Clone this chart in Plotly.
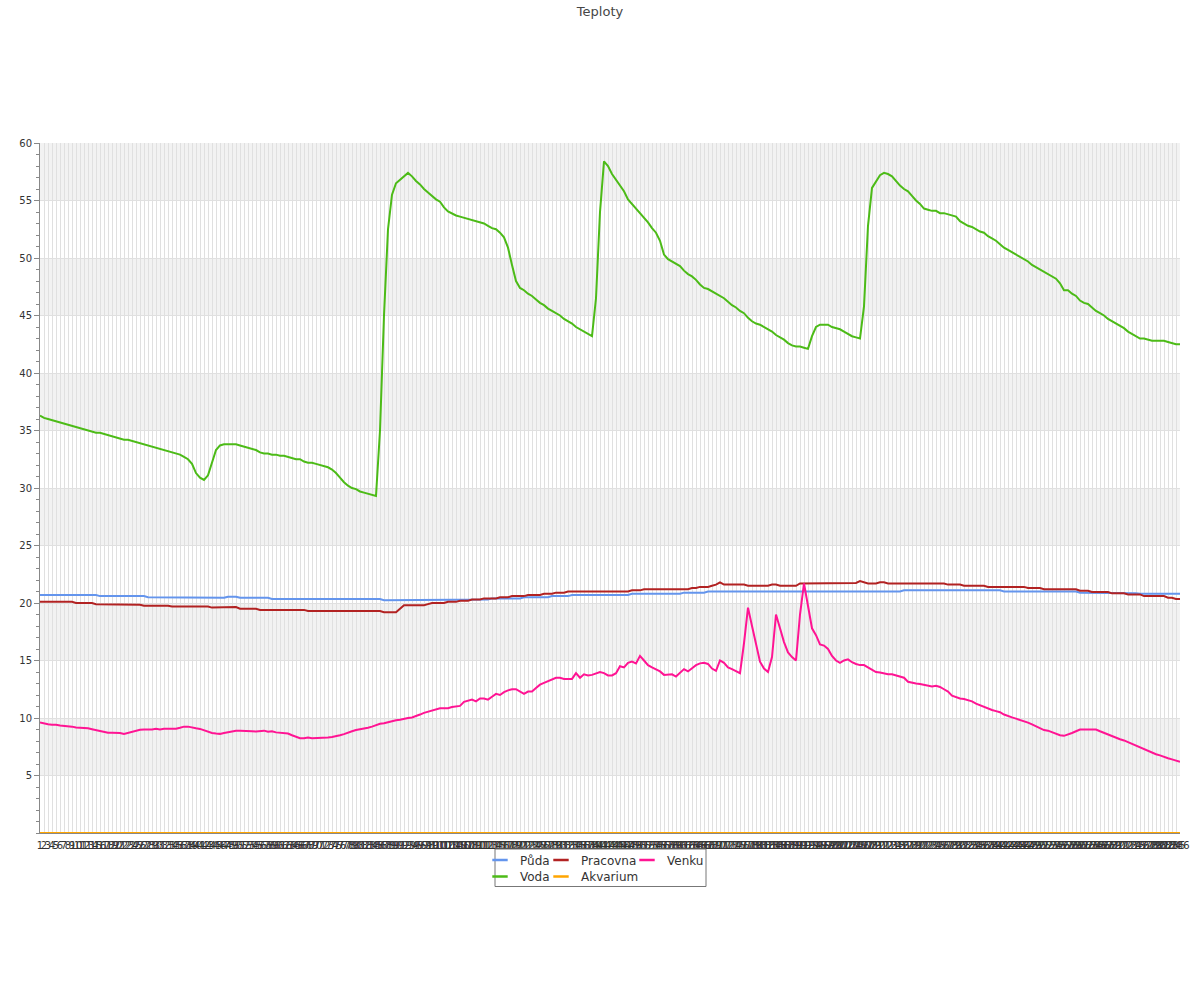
import plotly.graph_objects as go

title_text = "Teploty"

# category labels on the x axis (1 .. 286)
categories = [str(i) for i in range(1, 287)]

y_tick_values = [5, 10, 15, 20, 25, 30, 35, 40, 45, 50, 55, 60]
y_tick_labels = ["5", "10", "15", "20", "25", "30", "35", "40", "45", "50", "55", "60"]

puda = [
    20.7, 20.7, 20.7, 20.7, 20.7, 20.7, 20.7, 20.7, 20.7, 20.7,
    20.7, 20.7, 20.7, 20.7, 20.7, 20.6, 20.6, 20.6, 20.6, 20.6,
    20.6, 20.6, 20.6, 20.6, 20.6, 20.6, 20.6, 20.5, 20.5, 20.5,
    20.5, 20.5, 20.5, 20.5, 20.5, 20.5, 20.5, 20.5, 20.5, 20.5,
    20.5, 20.5, 20.5, 20.5, 20.5, 20.5, 20.45, 20.55, 20.55, 20.55,
    20.45, 20.45, 20.45, 20.45, 20.45, 20.45, 20.45, 20.45, 20.35, 20.35,
    20.35, 20.35, 20.35, 20.35, 20.35, 20.35, 20.35, 20.35, 20.35, 20.35,
    20.35, 20.35, 20.35, 20.35, 20.35, 20.35, 20.35, 20.35, 20.35, 20.35,
    20.35, 20.35, 20.35, 20.35, 20.35, 20.35, 20.25, 20.25, 20.3, 20.25,
    20.25, 20.25, 20.25, 20.25, 20.25, 20.25, 20.25, 20.25, 20.25, 20.25,
    20.25, 20.25, 20.3, 20.3, 20.3, 20.3, 20.3, 20.3, 20.3, 20.3,
    20.3, 20.3, 20.3, 20.4, 20.4, 20.4, 20.4, 20.4, 20.4, 20.4,
    20.4, 20.5, 20.5, 20.5, 20.5, 20.5, 20.5, 20.5, 20.6, 20.6,
    20.6, 20.6, 20.6, 20.7, 20.7, 20.7, 20.7, 20.7, 20.7, 20.7,
    20.7, 20.7, 20.7, 20.7, 20.7, 20.7, 20.7, 20.7, 20.8, 20.8,
    20.8, 20.8, 20.8, 20.8, 20.8, 20.8, 20.8, 20.8, 20.8, 20.8,
    20.8, 20.9, 20.9, 20.9, 20.9, 20.9, 20.9, 21.0, 21.0, 21.0,
    21.0, 21.0, 21.0, 21.0, 21.0, 21.0, 21.0, 21.0, 21.0, 21.0,
    21.0, 21.0, 21.0, 21.0, 21.0, 21.0, 21.0, 21.0, 21.0, 21.0,
    21.0, 21.0, 21.0, 21.0, 21.0, 21.0, 21.0, 21.0, 21.0, 21.0,
    21.0, 21.0, 21.0, 21.0, 21.0, 21.0, 21.0, 21.0, 21.0, 21.0,
    21.0, 21.0, 21.0, 21.0, 21.0, 21.0, 21.1, 21.1, 21.1, 21.1,
    21.1, 21.1, 21.1, 21.1, 21.1, 21.1, 21.1, 21.1, 21.1, 21.1,
    21.1, 21.1, 21.1, 21.1, 21.1, 21.1, 21.1, 21.1, 21.1, 21.1,
    21.1, 21.0, 21.0, 21.0, 21.0, 21.0, 21.0, 21.0, 21.0, 21.0,
    21.0, 21.0, 21.0, 21.0, 21.0, 21.0, 21.0, 21.0, 21.0, 21.0,
    20.9, 20.9, 20.9, 20.9, 20.9, 20.9, 20.9, 20.9, 20.85, 20.85,
    20.85, 20.85, 20.85, 20.85, 20.85, 20.8, 20.8, 20.8, 20.8, 20.8,
    20.8, 20.8, 20.8, 20.85, 20.8, 20.8,
]

pracovna = [
    20.1, 20.1, 20.1, 20.1, 20.1, 20.1, 20.1, 20.1, 20.1, 20.0,
    20.0, 20.0, 20.0, 20.0, 19.9, 19.9, 19.9, 19.85, 19.85, 19.85,
    19.85, 19.85, 19.85, 19.85, 19.85, 19.85, 19.77, 19.77, 19.77, 19.77,
    19.77, 19.77, 19.77, 19.7, 19.7, 19.7, 19.7, 19.7, 19.7, 19.7,
    19.7, 19.7, 19.7, 19.6, 19.6, 19.6, 19.6, 19.6, 19.6, 19.65,
    19.5, 19.5, 19.5, 19.5, 19.5, 19.4, 19.4, 19.4, 19.4, 19.4,
    19.4, 19.4, 19.4, 19.4, 19.4, 19.4, 19.4, 19.3, 19.3, 19.3,
    19.3, 19.3, 19.3, 19.3, 19.3, 19.3, 19.3, 19.3, 19.3, 19.3,
    19.3, 19.3, 19.3, 19.3, 19.3, 19.3, 19.2, 19.2, 19.2, 19.2,
    19.5, 19.8, 19.8, 19.8, 19.8, 19.8, 19.8, 19.9, 20.0, 20.0,
    20.0, 20.0, 20.1, 20.1, 20.1, 20.2, 20.2, 20.2, 20.3, 20.3,
    20.3, 20.4, 20.4, 20.4, 20.4, 20.5, 20.5, 20.5, 20.6, 20.6,
    20.6, 20.6, 20.7, 20.7, 20.7, 20.7, 20.8, 20.8, 20.8, 20.9,
    20.9, 20.9, 21.0, 21.0, 21.0, 21.0, 21.0, 21.0, 21.0, 21.0,
    21.0, 21.0, 21.0, 21.0, 21.0, 21.0, 21.0, 21.0, 21.1, 21.1,
    21.1, 21.2, 21.2, 21.2, 21.2, 21.2, 21.2, 21.2, 21.2, 21.2,
    21.2, 21.2, 21.2, 21.3, 21.3, 21.4, 21.4, 21.4, 21.5, 21.6,
    21.8, 21.6, 21.6, 21.6, 21.6, 21.6, 21.6, 21.5, 21.5, 21.5,
    21.5, 21.5, 21.5, 21.6, 21.6, 21.5, 21.5, 21.5, 21.5, 21.5,
    21.7, 21.7, 21.7, 21.7, 21.7, 21.7, 21.7, 21.7, 21.7, 21.7,
    21.7, 21.75, 21.75, 21.75, 21.75, 21.9, 21.8, 21.7, 21.7, 21.7,
    21.8, 21.8, 21.7, 21.7, 21.7, 21.7, 21.7, 21.7, 21.7, 21.7,
    21.7, 21.7, 21.7, 21.7, 21.7, 21.7, 21.7, 21.6, 21.6, 21.6,
    21.6, 21.5, 21.5, 21.5, 21.5, 21.5, 21.5, 21.4, 21.4, 21.4,
    21.4, 21.4, 21.4, 21.4, 21.4, 21.4, 21.4, 21.3, 21.3, 21.3,
    21.3, 21.2, 21.2, 21.2, 21.2, 21.2, 21.2, 21.2, 21.2, 21.2,
    21.07, 21.07, 21.07, 20.96, 20.96, 20.96, 20.96, 20.96, 20.84, 20.84,
    20.84, 20.84, 20.75, 20.75, 20.75, 20.75, 20.6, 20.6, 20.6, 20.6,
    20.6, 20.6, 20.46, 20.46, 20.35, 20.35,
]

venku = [
    9.6, 9.5, 9.45, 9.42, 9.42, 9.35, 9.33, 9.33, 9.25, 9.18,
    9.16, 9.16, 9.1, 9.02, 8.95, 8.85, 8.75, 8.72, 8.72, 8.72,
    8.7, 8.62, 8.72, 8.82, 8.9, 8.97, 9.0, 9.0, 9.0, 9.07,
    9.0, 9.07, 9.07, 9.07, 9.07, 9.15, 9.25, 9.25, 9.15, 9.1,
    9.05, 8.92, 8.8, 8.7, 8.65, 8.62, 8.7, 8.78, 8.85, 8.9,
    8.9, 8.9, 8.9, 8.85, 8.82, 8.85, 8.9, 8.8, 8.85, 8.75,
    8.72, 8.72, 8.65, 8.5, 8.35, 8.25, 8.25, 8.3, 8.25, 8.25,
    8.25, 8.25, 8.3, 8.35, 8.4, 8.5, 8.6, 8.75, 8.85, 8.95,
    9.0, 9.05, 9.15, 9.25, 9.4, 9.5, 9.55, 9.65, 9.75, 9.8,
    9.85, 9.95, 10.0, 10.05, 10.15, 10.3, 10.45, 10.55, 10.65, 10.8,
    10.85, 10.85, 10.85, 10.95, 11.0, 11.05, 11.4, 11.5, 11.6, 11.45,
    11.7, 11.7, 11.6, 11.85, 12.1, 12.0, 12.25, 12.4, 12.5, 12.5,
    12.3, 12.1, 12.3, 12.3, 12.6, 12.9, 13.05, 13.2, 13.35, 13.5,
    13.5, 13.4, 13.4, 13.4, 13.9, 13.5, 13.8, 13.7, 13.75, 13.9,
    14.0, 13.9, 13.7, 13.7, 13.9, 14.5, 14.4, 14.8, 14.9, 14.75,
    15.4, 15.0, 14.6, 14.4, 14.2, 14.05, 13.75, 13.8, 13.8, 13.6,
    13.9, 14.25, 14.05, 14.3, 14.6, 14.75, 14.8, 14.7, 14.3, 14.1,
    15.0, 14.8, 14.4, 14.25, 14.1, 13.9, 16.5, 19.6, 18.0, 16.3,
    14.9, 14.3, 14.0, 15.3, 19.0, 17.8, 16.6, 15.7, 15.3, 15.0,
    19.0, 21.7, 19.6, 17.8, 17.2, 16.4, 16.3, 16.0, 15.4, 15.0,
    14.8, 15.0, 15.1, 14.85, 14.7, 14.6, 14.6, 14.4, 14.2, 14.0,
    13.95, 13.85, 13.8, 13.8, 13.7, 13.65, 13.5, 13.15, 13.05, 13.0,
    12.95, 12.9, 12.85, 12.75, 12.8, 12.7, 12.5, 12.3, 11.95, 11.8,
    11.7, 11.65, 11.55, 11.45, 11.25, 11.1, 10.95, 10.85, 10.7, 10.6,
    10.5, 10.3, 10.15, 10.05, 9.95, 9.85, 9.7, 9.6, 9.45, 9.3,
    9.1, 8.95, 8.9, 8.75, 8.6, 8.5, 8.45, 8.55, 8.7, 8.85,
    9.0, 9.0, 9.0, 9.0, 9.0, 8.85, 8.7, 8.55, 8.4, 8.3,
    8.15, 8.05, 7.9, 7.7, 7.55, 7.4, 7.3, 7.15, 6.95, 6.85,
    6.75, 6.6, 6.5, 6.4, 6.3, 6.2,
]

voda = [
    36.3, 36.1, 36.0, 35.9, 35.8, 35.7, 35.6, 35.5, 35.4, 35.3,
    35.2, 35.1, 35.0, 34.9, 34.8, 34.8, 34.7, 34.6, 34.5, 34.4,
    34.3, 34.2, 34.2, 34.1, 34.0, 33.9, 33.8, 33.7, 33.6, 33.5,
    33.4, 33.3, 33.2, 33.1, 33.0, 32.9, 32.7, 32.5, 32.1, 31.3,
    30.9, 30.7, 31.1, 32.3, 33.3, 33.7, 33.8, 33.8, 33.8, 33.8,
    33.7, 33.6, 33.5, 33.4, 33.3, 33.1, 33.0, 33.0, 32.9, 32.9,
    32.8, 32.8, 32.7, 32.6, 32.5, 32.5, 32.3, 32.2, 32.2, 32.1,
    32.0, 31.9, 31.8, 31.6, 31.3, 30.9, 30.5, 30.2, 30.0, 29.9,
    29.7, 29.6, 29.5, 29.4, 29.3, 35.0, 45.0, 52.5, 55.5, 56.5,
    56.8, 57.1, 57.4, 57.1, 56.7, 56.4, 56.0, 55.7, 55.4, 55.1,
    54.9, 54.4, 54.05, 53.85, 53.7, 53.6, 53.5, 53.4, 53.3, 53.2,
    53.1, 53.0, 52.8, 52.6, 52.5, 52.2, 51.8, 50.9, 49.4, 48.0,
    47.4, 47.2, 46.9, 46.7, 46.4, 46.1, 45.9, 45.6, 45.4, 45.2,
    45.0, 44.7, 44.5, 44.3, 44.0, 43.8, 43.6, 43.4, 43.2, 46.5,
    54.0, 58.4, 58.0, 57.3, 56.8, 56.4, 55.8, 55.1, 54.7, 54.3,
    53.9, 53.5, 53.1, 52.6, 52.2, 51.5, 50.3, 49.9, 49.7, 49.5,
    49.3, 48.9, 48.6, 48.4, 48.1, 47.7, 47.4, 47.3, 47.1, 46.9,
    46.7, 46.5, 46.2, 45.9, 45.7, 45.4, 45.2, 44.8, 44.5, 44.3,
    44.2, 44.0, 43.8, 43.6, 43.3, 43.1, 42.9, 42.6, 42.4, 42.3,
    42.3, 42.2, 42.1, 43.2, 44.0, 44.2, 44.2, 44.2, 44.0, 43.9,
    43.8, 43.6, 43.4, 43.2, 43.1, 43.0, 45.8, 52.8, 56.1, 56.6,
    57.2, 57.4, 57.3, 57.1, 56.7, 56.3, 56.0, 55.8, 55.4, 55.0,
    54.7, 54.3, 54.2, 54.1, 54.1, 53.9, 53.9, 53.8, 53.7, 53.6,
    53.2, 53.0, 52.8, 52.7, 52.5, 52.3, 52.2, 51.9, 51.7, 51.5,
    51.2, 50.9, 50.7, 50.5, 50.3, 50.1, 49.9, 49.7, 49.4, 49.2,
    49.0, 48.8, 48.6, 48.4, 48.2, 47.8, 47.2, 47.2, 46.9, 46.7,
    46.3, 46.1, 46.0, 45.7, 45.4, 45.2, 45.0, 44.7, 44.5, 44.3,
    44.1, 43.9, 43.6, 43.4, 43.2, 43.0, 43.0, 42.9, 42.8, 42.8,
    42.8, 42.8, 42.7, 42.6, 42.5, 42.5,
]

akvarium = [
    0, 0, 0, 0, 0, 0, 0, 0, 0, 0, 0, 0, 0, 0, 0, 0, 0, 0, 0, 0,
    0, 0, 0, 0, 0, 0, 0, 0, 0, 0, 0, 0, 0, 0, 0, 0, 0, 0, 0, 0,
    0, 0, 0, 0, 0, 0, 0, 0, 0, 0, 0, 0, 0, 0, 0, 0, 0, 0, 0, 0,
    0, 0, 0, 0, 0, 0, 0, 0, 0, 0, 0, 0, 0, 0, 0, 0, 0, 0, 0, 0,
    0, 0, 0, 0, 0, 0, 0, 0, 0, 0, 0, 0, 0, 0, 0, 0, 0, 0, 0, 0,
    0, 0, 0, 0, 0, 0, 0, 0, 0, 0, 0, 0, 0, 0, 0, 0, 0, 0, 0, 0,
    0, 0, 0, 0, 0, 0, 0, 0, 0, 0, 0, 0, 0, 0, 0, 0, 0, 0, 0, 0,
    0, 0, 0, 0, 0, 0, 0, 0, 0, 0, 0, 0, 0, 0, 0, 0, 0, 0, 0, 0,
    0, 0, 0, 0, 0, 0, 0, 0, 0, 0, 0, 0, 0, 0, 0, 0, 0, 0, 0, 0,
    0, 0, 0, 0, 0, 0, 0, 0, 0, 0, 0, 0, 0, 0, 0, 0, 0, 0, 0, 0,
    0, 0, 0, 0, 0, 0, 0, 0, 0, 0, 0, 0, 0, 0, 0, 0, 0, 0, 0, 0,
    0, 0, 0, 0, 0, 0, 0, 0, 0, 0, 0, 0, 0, 0, 0, 0, 0, 0, 0, 0,
    0, 0, 0, 0, 0, 0, 0, 0, 0, 0, 0, 0, 0, 0, 0, 0, 0, 0, 0, 0,
    0, 0, 0, 0, 0, 0, 0, 0, 0, 0, 0, 0, 0, 0, 0, 0, 0, 0, 0, 0,
    0, 0, 0, 0, 0, 0,
]

# drawing order, colours and legend slot of each series
series = [
    ("Půda", puda, "#6495ED", "legend"),
    ("Pracovna", pracovna, "#B22222", "legend2"),
    ("Venku", venku, "#FF1493", "legend3"),
    ("Voda", voda, "#4CBB17", "legend4"),
    ("Akvarium", akvarium, "#FFA500", "legend5"),
]

FONT = "DejaVu Sans"
TEXT = "#333333"
GRID = "#e0e0e0"
BAND = "#f2f2f2"
AXIS = "#888888"

fig = go.Figure()

for name, values, color, leg in series:
    fig.add_trace(go.Scatter(
        x=categories, y=values, mode="lines", name=name,
        line=dict(color=color, width=2), legendgroup=name,
        showlegend=False, cliponaxis=False,
    ))

# legend-only entries with short line symbols
for name, values, color, leg in series:
    fig.add_trace(go.Scatter(
        x=[None], y=[None], mode="markers", name=name,
        marker=dict(symbol="line-ew", size=11, color=color,
                    line=dict(color=color, width=2.5)),
        legendgroup=name, legend=leg, showlegend=True, hoverinfo="skip",
    ))

# alternating bands behind the grid
band_ranges = [(5, 10), (15, 20), (25, 30), (35, 40), (45, 50), (55, 60)]
shapes = []
for y0, y1 in band_ranges:
    shapes.append(dict(type="rect", xref="paper", yref="y", x0=0, x1=1,
                       y0=y0, y1=y1, fillcolor=BAND, line=dict(width=0),
                       layer="below"))

# legend frame (pixel geometry converted to paper coordinates)
PL, PR, PT, PB = 40, 1180, 143, 833
def px_x(p):
    return (p - PL) / (PR - PL)
def px_y(p):
    return (PB - p) / (PB - PT)

shapes.append(dict(type="rect", xref="paper", yref="paper",
                   x0=px_x(495), x1=px_x(706), y0=px_y(886.5), y1=px_y(849),
                   line=dict(color="#777777", width=1), fillcolor="rgba(0,0,0,0)",
                   layer="above"))

legend_common = dict(bgcolor="rgba(0,0,0,0)", borderwidth=0,
                     font=dict(family=FONT, size=12, color=TEXT),
                     xanchor="left", yanchor="middle", orientation="v",
                     xref="paper", yref="paper")
row1, row2 = px_y(860), px_y(876.5)
col1, col2, col3 = px_x(480), px_x(541), px_x(627)

fig.update_layout(
    template="none",
    width=1200, height=1000,
    margin=dict(l=40, r=20, t=143, b=167, pad=0),
    paper_bgcolor="white", plot_bgcolor="white",
    font=dict(family=FONT, size=12, color=TEXT),
    title=dict(text=title_text, x=0.5, xanchor="center", y=1 - 11 / 1000,
               yanchor="middle", font=dict(family=FONT, size=13, color="#464646")),
    showlegend=True,
    legend=dict(x=col1, y=row1, **legend_common),
    legend2=dict(x=col2, y=row1, **legend_common),
    legend3=dict(x=col3, y=row1, **legend_common),
    legend4=dict(x=col1, y=row2, **legend_common),
    legend5=dict(x=col2, y=row2, **legend_common),
    shapes=shapes,
    hovermode="x",
)

fig.update_xaxes(
    type="category", range=[0, len(categories) - 1],
    tickmode="array", tickvals=categories, ticktext=categories,
    tickangle=0, tickfont=dict(family=FONT, size=10, color=TEXT),
    ticks="", ticklabelstandoff=3, showgrid=True, gridcolor=GRID, gridwidth=1,
    showline=True, linecolor=AXIS, linewidth=1,
    zeroline=False, automargin=False, layer="below traces",
)

fig.update_yaxes(
    range=[0, 60], tickmode="array", tickvals=y_tick_values, ticktext=y_tick_labels,
    tickfont=dict(family=FONT, size=10, color=TEXT),
    ticks="outside", ticklen=5, tickcolor=AXIS, tickwidth=1,
    minor=dict(tickmode="linear", tick0=0, dtick=1, ticks="outside",
               ticklen=3, tickcolor=AXIS, tickwidth=1, showgrid=False),
    showgrid=True, gridcolor=GRID, gridwidth=1,
    showline=True, linecolor=AXIS, linewidth=1,
    zeroline=False, automargin=False, layer="below traces",
)

fig.write_html(
    "out.html",
    config={"displayModeBar": False},
    post_script="document.body.style.margin='0px';document.body.style.overflow='hidden';",
)
